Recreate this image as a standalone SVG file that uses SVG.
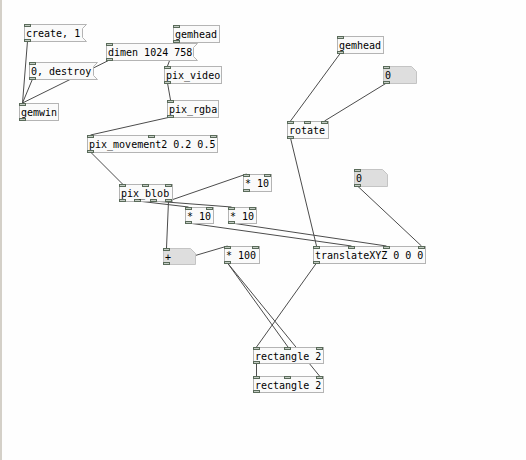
<svg xmlns="http://www.w3.org/2000/svg" width="526" height="460" viewBox="0 0 526 460">
<style>
.bg{fill:#fefefe}
.strip{fill:#d4d0c8}
.obj{fill:#fafafa;stroke:#b4b4b4;stroke-width:1}
.msg{fill:#fafafa;stroke:#b4b4b4;stroke-width:1}
.atom{fill:#dedede;stroke:#c4c4c4;stroke-width:1}
.io{fill:#c4ccc4;stroke:#5a6b5a;stroke-width:1}
.t{font-family:"DejaVu Sans Mono","Liberation Mono",monospace;font-size:10px;fill:#000}
.c{stroke:#4c4c4c;stroke-width:1;fill:none}
</style>
<rect class="bg" x="0" y="0" width="526" height="460"/>
<rect class="strip" x="0" y="0" width="2" height="460"/>
<g id="connectors">
<line class="c" x1="27.5" y1="41" x2="22.5" y2="103"/>
<line class="c" x1="32.5" y1="79" x2="22.5" y2="103"/>
<line class="c" x1="109.5" y1="60" x2="22.5" y2="103"/>
<line class="c" x1="176.5" y1="42" x2="167.5" y2="66"/>
<line class="c" x1="167.5" y1="83" x2="170.5" y2="100"/>
<line class="c" x1="170.5" y1="117" x2="90.5" y2="135"/>
<line class="c" x1="90.5" y1="152" x2="122.5" y2="184"/>
<line class="c" x1="168.5" y1="201" x2="246.5" y2="174"/>
<line class="c" x1="168.5" y1="201" x2="166.5" y2="248"/>
<line class="c" x1="137.8" y1="201" x2="188.5" y2="207"/>
<line class="c" x1="153.2" y1="201" x2="231.5" y2="207"/>
<line class="c" x1="188.5" y1="223" x2="351.5" y2="246"/>
<line class="c" x1="231.5" y1="223" x2="386.5" y2="246"/>
<line class="c" x1="166.5" y1="264" x2="227.5" y2="246"/>
<line class="c" x1="227.5" y1="263" x2="288" y2="347"/>
<line class="c" x1="227.5" y1="263" x2="319.5" y2="376"/>
<line class="c" x1="340.5" y1="53" x2="290.5" y2="121"/>
<line class="c" x1="386.5" y1="83" x2="324.5" y2="121"/>
<line class="c" x1="290.5" y1="138" x2="316.5" y2="246"/>
<line class="c" x1="357.5" y1="186" x2="421.5" y2="246"/>
<line class="c" x1="316.5" y1="263" x2="256.5" y2="347"/>
<line class="c" x1="256.5" y1="363" x2="256.5" y2="376"/>
</g>
<g id="msg-create">
<polygon class="msg" points="24.5,24.5 86.5,24.5 82.5,28.5 82.5,37.5 86.5,41.5 24.5,41.5"/>
<rect class="io" x="24.5" y="24.5" width="6" height="2"/>
<rect class="io" x="24.5" y="39.5" width="6" height="2"/>
<text class="t" x="26" y="37">create, 1</text>
</g>
<g id="gemhead1">
<rect class="obj" x="173.5" y="25.5" width="46" height="17"/>
<rect class="io" x="173.5" y="25.5" width="6" height="2"/>
<rect class="io" x="173.5" y="40.5" width="6" height="2"/>
<text class="t" x="175" y="38">gemhead</text>
</g>
<g id="msg-dimen">
<polygon class="msg" points="106.5,43.5 197.5,43.5 193.5,47.5 193.5,56.5 197.5,60.5 106.5,60.5"/>
<rect class="io" x="106.5" y="43.5" width="6" height="2"/>
<rect class="io" x="106.5" y="58.5" width="6" height="2"/>
<text class="t" x="108" y="56">dimen 1024 758</text>
</g>
<g id="msg-destroy">
<polygon class="msg" points="29.5,62.5 97.5,62.5 93.5,66.5 93.5,75.5 97.5,79.5 29.5,79.5"/>
<rect class="io" x="29.5" y="62.5" width="6" height="2"/>
<rect class="io" x="29.5" y="77.5" width="6" height="2"/>
<text class="t" x="31" y="75">0, destroy</text>
</g>
<g id="pix_video">
<rect class="obj" x="164.5" y="66.5" width="57" height="17"/>
<rect class="io" x="164.5" y="66.5" width="6" height="2"/>
<rect class="io" x="164.5" y="81.5" width="6" height="2"/>
<text class="t" x="166" y="79">pix_video</text>
</g>
<g id="gemwin">
<rect class="obj" x="19.5" y="103.5" width="39" height="17"/>
<rect class="io" x="19.5" y="103.5" width="6" height="2"/>
<rect class="io" x="19.5" y="118.5" width="6" height="2"/>
<text class="t" x="21" y="116">gemwin</text>
</g>
<g id="pix_rgba">
<rect class="obj" x="167.5" y="100.5" width="51" height="17"/>
<rect class="io" x="167.5" y="100.5" width="6" height="2"/>
<rect class="io" x="167.5" y="115.5" width="6" height="2"/>
<text class="t" x="169" y="113">pix_rgba</text>
</g>
<g id="pix_movement2">
<rect class="obj" x="87.5" y="135.5" width="130" height="17"/>
<rect class="io" x="87.5" y="135.5" width="6" height="2"/>
<rect class="io" x="148.5" y="135.5" width="6" height="2"/>
<rect class="io" x="210.5" y="135.5" width="6" height="2"/>
<rect class="io" x="87.5" y="150.5" width="6" height="2"/>
<text class="t" x="89" y="148">pix_movement2 0.2 0.5</text>
</g>
<g id="pix_blob">
<rect class="obj" x="119.5" y="184.5" width="53" height="17"/>
<rect class="io" x="119.5" y="184.5" width="6" height="2"/>
<rect class="io" x="142.5" y="184.5" width="6" height="2"/>
<rect class="io" x="165.5" y="184.5" width="6" height="2"/>
<rect class="io" x="119.5" y="199.5" width="6" height="2"/>
<rect class="io" x="134.5" y="199.5" width="6" height="2"/>
<rect class="io" x="150.5" y="199.5" width="6" height="2"/>
<rect class="io" x="165.5" y="199.5" width="6" height="2"/>
<text class="t" x="121" y="197">pix_blob</text>
</g>
<g id="mul10-top">
<rect class="obj" x="243.5" y="174.5" width="28" height="17"/>
<rect class="io" x="243.5" y="174.5" width="6" height="2"/>
<rect class="io" x="264.5" y="174.5" width="6" height="2"/>
<rect class="io" x="243.5" y="189.5" width="6" height="2"/>
<text class="t" x="245" y="187">* 10</text>
</g>
<g id="mul10-a">
<rect class="obj" x="185.5" y="207.5" width="28" height="16"/>
<rect class="io" x="185.5" y="207.5" width="6" height="2"/>
<rect class="io" x="206.5" y="207.5" width="6" height="2"/>
<rect class="io" x="185.5" y="221.5" width="6" height="2"/>
<text class="t" x="187" y="220">* 10</text>
</g>
<g id="mul10-b">
<rect class="obj" x="228.5" y="207.5" width="28" height="16"/>
<rect class="io" x="228.5" y="207.5" width="6" height="2"/>
<rect class="io" x="249.5" y="207.5" width="6" height="2"/>
<rect class="io" x="228.5" y="221.5" width="6" height="2"/>
<text class="t" x="230" y="220">* 10</text>
</g>
<g id="atom-plus">
<polygon class="atom" points="163.5,248.5 190.5,248.5 195.5,253.5 195.5,264.5 163.5,264.5"/>
<rect class="io" x="163.5" y="248.5" width="6" height="2"/>
<rect class="io" x="163.5" y="262.5" width="6" height="2"/>
<text class="t" x="165" y="261">+</text>
</g>
<g id="mul100">
<rect class="obj" x="224.5" y="246.5" width="35" height="17"/>
<rect class="io" x="224.5" y="246.5" width="6" height="2"/>
<rect class="io" x="252.5" y="246.5" width="6" height="2"/>
<rect class="io" x="224.5" y="261.5" width="6" height="2"/>
<text class="t" x="226" y="259">* 100</text>
</g>
<g id="gemhead2">
<rect class="obj" x="337.5" y="36.5" width="46" height="17"/>
<rect class="io" x="337.5" y="36.5" width="6" height="2"/>
<rect class="io" x="337.5" y="51.5" width="6" height="2"/>
<text class="t" x="339" y="49">gemhead</text>
</g>
<g id="atom-zero1">
<polygon class="atom" points="383.5,66.5 411.5,66.5 416.5,71.5 416.5,83.5 383.5,83.5"/>
<rect class="io" x="383.5" y="66.5" width="6" height="2"/>
<rect class="io" x="383.5" y="81.5" width="6" height="2"/>
<text class="t" x="385" y="79">0</text>
</g>
<g id="rotate">
<rect class="obj" x="287.5" y="121.5" width="41" height="17"/>
<rect class="io" x="287.5" y="121.5" width="6" height="2"/>
<rect class="io" x="304.5" y="121.5" width="6" height="2"/>
<rect class="io" x="321.5" y="121.5" width="6" height="2"/>
<rect class="io" x="287.5" y="136.5" width="6" height="2"/>
<text class="t" x="289" y="134">rotate</text>
</g>
<g id="atom-zero2">
<polygon class="atom" points="354.5,169.5 382.5,169.5 387.5,174.5 387.5,186.5 354.5,186.5"/>
<rect class="io" x="354.5" y="169.5" width="6" height="2"/>
<rect class="io" x="354.5" y="184.5" width="6" height="2"/>
<text class="t" x="356" y="182">0</text>
</g>
<g id="translateXYZ">
<rect class="obj" x="313.5" y="246.5" width="112" height="17"/>
<rect class="io" x="313.5" y="246.5" width="6" height="2"/>
<rect class="io" x="348.5" y="246.5" width="6" height="2"/>
<rect class="io" x="383.5" y="246.5" width="6" height="2"/>
<rect class="io" x="418.5" y="246.5" width="6" height="2"/>
<rect class="io" x="313.5" y="261.5" width="6" height="2"/>
<text class="t" x="315" y="259">translateXYZ 0 0 0</text>
</g>
<g id="rectangle1">
<rect class="obj" x="253.5" y="347.5" width="70" height="16"/>
<rect class="io" x="253.5" y="347.5" width="6" height="2"/>
<rect class="io" x="284.5" y="347.5" width="6" height="2"/>
<rect class="io" x="316.5" y="347.5" width="6" height="2"/>
<rect class="io" x="253.5" y="361.5" width="6" height="2"/>
<text class="t" x="255" y="360">rectangle 2</text>
</g>
<g id="rectangle2">
<rect class="obj" x="253.5" y="376.5" width="70" height="16"/>
<rect class="io" x="253.5" y="376.5" width="6" height="2"/>
<rect class="io" x="284.5" y="376.5" width="6" height="2"/>
<rect class="io" x="316.5" y="376.5" width="6" height="2"/>
<rect class="io" x="253.5" y="390.5" width="6" height="2"/>
<text class="t" x="255" y="389">rectangle 2</text>
</g>
</svg>
